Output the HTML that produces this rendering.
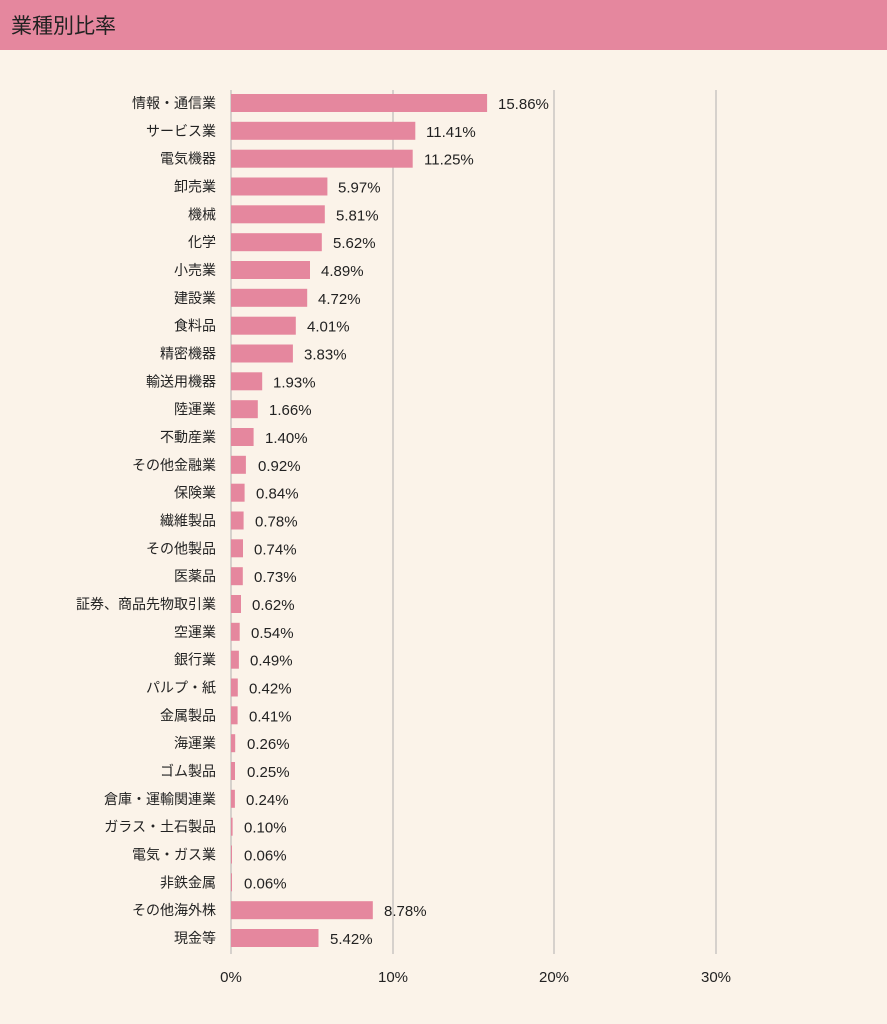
<!DOCTYPE html>
<html><head><meta charset="utf-8"><style>
html,body{margin:0;padding:0;background:#FBF3E9;}
svg{display:block;font-family:"Liberation Sans","Noto Sans CJK JP",sans-serif;}
</style></head><body>
<svg width="887" height="1024" xmlns="http://www.w3.org/2000/svg">
<rect width="887" height="1024" fill="#FBF3E9"/>
<rect width="887" height="50" fill="#E5879E"/>
<text x="11" y="33" font-size="21" fill="#222">業種別比率</text>
<g stroke="#C9C6C3" stroke-width="1.5">
<line x1="231" y1="90" x2="231" y2="954"/><line x1="393" y1="90" x2="393" y2="954"/>
<line x1="554" y1="90" x2="554" y2="954"/><line x1="716" y1="90" x2="716" y2="954"/>
</g>
<g fill="#E5879E">
<rect x="231" y="94" width="256.1" height="18"/>
<rect x="231" y="121.8" width="184.3" height="18"/>
<rect x="231" y="149.7" width="181.7" height="18"/>
<rect x="231" y="177.5" width="96.4" height="18"/>
<rect x="231" y="205.3" width="93.8" height="18"/>
<rect x="231" y="233.2" width="90.8" height="18"/>
<rect x="231" y="261" width="79" height="18"/>
<rect x="231" y="288.8" width="76.2" height="18"/>
<rect x="231" y="316.7" width="64.8" height="18"/>
<rect x="231" y="344.5" width="61.9" height="18"/>
<rect x="231" y="372.3" width="31.2" height="18"/>
<rect x="231" y="400.2" width="26.8" height="18"/>
<rect x="231" y="428" width="22.6" height="18"/>
<rect x="231" y="455.8" width="14.9" height="18"/>
<rect x="231" y="483.7" width="13.6" height="18"/>
<rect x="231" y="511.5" width="12.6" height="18"/>
<rect x="231" y="539.3" width="12" height="18"/>
<rect x="231" y="567.2" width="11.8" height="18"/>
<rect x="231" y="595" width="10" height="18"/>
<rect x="231" y="622.8" width="8.7" height="18"/>
<rect x="231" y="650.7" width="7.9" height="18"/>
<rect x="231" y="678.5" width="6.8" height="18"/>
<rect x="231" y="706.3" width="6.6" height="18"/>
<rect x="231" y="734.2" width="4.2" height="18"/>
<rect x="231" y="762" width="4" height="18"/>
<rect x="231" y="789.8" width="3.9" height="18"/>
<rect x="231" y="817.7" width="1.6" height="18"/>
<rect x="231" y="845.5" width="1" height="18"/>
<rect x="231" y="873.3" width="1" height="18"/>
<rect x="231" y="901.2" width="141.8" height="18"/>
<rect x="231" y="929" width="87.5" height="18"/>
</g>
<g font-size="15" fill="#222">
<text x="498" y="109">15.86%</text>
<text x="426" y="136.8">11.41%</text>
<text x="424" y="164.7">11.25%</text>
<text x="338" y="192.5">5.97%</text>
<text x="336" y="220.3">5.81%</text>
<text x="333" y="248.2">5.62%</text>
<text x="321" y="276">4.89%</text>
<text x="318" y="303.8">4.72%</text>
<text x="307" y="331.7">4.01%</text>
<text x="304" y="359.5">3.83%</text>
<text x="273" y="387.3">1.93%</text>
<text x="269" y="415.2">1.66%</text>
<text x="265" y="443">1.40%</text>
<text x="258" y="470.8">0.92%</text>
<text x="256" y="498.7">0.84%</text>
<text x="255" y="526.5">0.78%</text>
<text x="254" y="554.3">0.74%</text>
<text x="254" y="582.2">0.73%</text>
<text x="252" y="610">0.62%</text>
<text x="251" y="637.8">0.54%</text>
<text x="250" y="665.7">0.49%</text>
<text x="249" y="693.5">0.42%</text>
<text x="249" y="721.3">0.41%</text>
<text x="247" y="749.2">0.26%</text>
<text x="247" y="777">0.25%</text>
<text x="246" y="804.8">0.24%</text>
<text x="244" y="832.7">0.10%</text>
<text x="244" y="860.5">0.06%</text>
<text x="244" y="888.3">0.06%</text>
<text x="384" y="916.2">8.78%</text>
<text x="330" y="944">5.42%</text>
</g>
<g font-size="14" fill="#222" text-anchor="end">
<text x="216" y="108">情報・通信業</text>
<text x="216" y="135.8">サービス業</text>
<text x="216" y="163.7">電気機器</text>
<text x="216" y="191.5">卸売業</text>
<text x="216" y="219.3">機械</text>
<text x="216" y="247.2">化学</text>
<text x="216" y="275">小売業</text>
<text x="216" y="302.8">建設業</text>
<text x="216" y="330.7">食料品</text>
<text x="216" y="358.5">精密機器</text>
<text x="216" y="386.3">輸送用機器</text>
<text x="216" y="414.2">陸運業</text>
<text x="216" y="442">不動産業</text>
<text x="216" y="469.8">その他金融業</text>
<text x="216" y="497.7">保険業</text>
<text x="216" y="525.5">繊維製品</text>
<text x="216" y="553.3">その他製品</text>
<text x="216" y="581.2">医薬品</text>
<text x="216" y="609">証券、商品先物取引業</text>
<text x="216" y="636.8">空運業</text>
<text x="216" y="664.7">銀行業</text>
<text x="216" y="692.5">パルプ・紙</text>
<text x="216" y="720.3">金属製品</text>
<text x="216" y="748.2">海運業</text>
<text x="216" y="776">ゴム製品</text>
<text x="216" y="803.8">倉庫・運輸関連業</text>
<text x="216" y="831.7">ガラス・土石製品</text>
<text x="216" y="859.5">電気・ガス業</text>
<text x="216" y="887.3">非鉄金属</text>
<text x="216" y="915.2">その他海外株</text>
<text x="216" y="943">現金等</text>
</g>
<g font-size="15" fill="#222" text-anchor="middle">
<text x="231" y="982">0%</text>
<text x="393" y="982">10%</text>
<text x="554" y="982">20%</text>
<text x="716" y="982">30%</text>
</g>
</svg>
</body></html>
